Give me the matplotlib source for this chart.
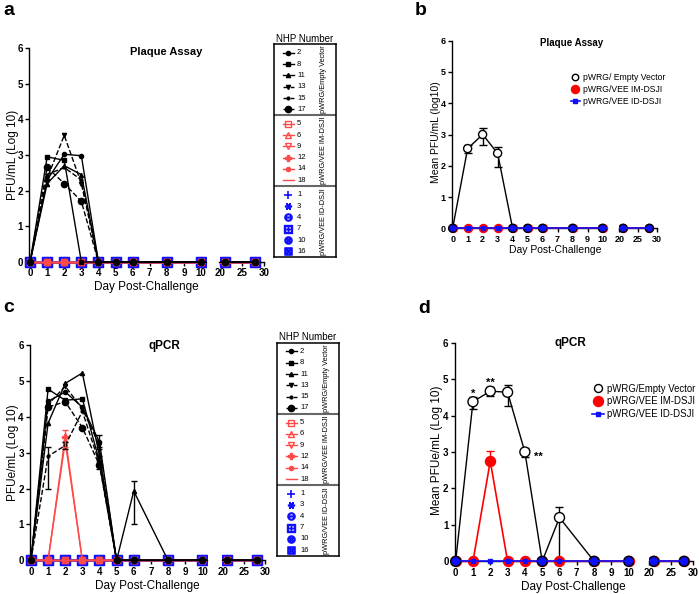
import matplotlib
matplotlib.use('Agg')
import matplotlib.pyplot as plt
from matplotlib.patches import Rectangle
from matplotlib.lines import Line2D

plt.rcParams['font.family'] = ['Liberation Sans', 'DejaVu Sans']
plt.rcParams['mathtext.fontset'] = 'dejavusans'

# ---------------- data ----------------
days = [0, 1, 2, 3, 4, 5, 6, 8, 10, 21, 28]
left_ticks = [0, 1, 2, 3, 4, 5, 6, 7, 8, 9, 10]
right_ticks = [20, 25, 30]
y_ticks = [0, 1, 2, 3, 4, 5, 6]

ev_ids = ['2', '8', '11', '13', '15', '17']
im_ids = ['5', '6', '9', '12', '14', '18']
id_ids = ['1', '3', '4', '7', '10', '16']
group_names = ['pWRG/Empty Vector', 'pWRG/VEE IM-DSJI', 'pWRG/VEE ID-DSJI']
mean_labels_b = ['pWRG/ Empty Vector', 'pWRG/VEE IM-DSJI', 'pWRG/VEE ID-DSJI']
mean_labels_d = ['pWRG/Empty Vector', 'pWRG/VEE IM-DSJI', 'pWRG/VEE ID-DSJI']

# panel a: plaque assay, individual NHPs (log10 PFU/mL)
pa_2 = [0, 2.30, 3.02, 2.98, 0, 0, 0, 0, 0, 0, 0]
pa_8 = [0, 2.95, 2.85, 0.00, 0, 0, 0, 0, 0, 0, 0]
pa_11 = [0, 2.20, 2.70, 2.45, 0, 0, 0, 0, 0, 0, 0]
pa_13 = [0, 2.35, 3.55, 2.20, 0, 0, 0, 0, 0, 0, 0]
pa_15 = [0, 2.45, 2.65, 2.30, 0, 0, 0, 0, 0, 0, 0]
pa_17 = [0, 2.65, 2.20, 1.70, 0, 0, 0, 0, 0, 0, 0]
pa_im = [0, 0, 0, 0, 0, 0, 0, 0, 0, 0, 0]   # every IM-DSJI animal
pa_id = [0, 0, 0, 0, 0, 0, 0, 0, 0, 0, 0]   # every ID-DSJI animal

# panel c: qPCR, individual NHPs (log10 PFUe/mL)
pc_2 = [0, 4.43, 4.69, 4.27, 3.30, 0, 0, 0, 0, 0, 0]
pc_8 = [0, 4.77, 4.46, 4.50, 2.75, 0, 0, 0, 0, 0, 0]
pc_11 = [0, 3.82, 4.93, 5.22, 2.90, 0, 1.93, 0, 0, 0, 0]
pc_13 = [0, 4.34, 4.85, 4.22, 3.20, 0, 0, 0, 0, 0, 0]
pc_15 = [0, 2.90, 3.20, 4.15, 2.70, 0, 0, 0, 0, 0, 0]
pc_17 = [0, 4.27, 4.42, 3.70, 2.65, 0, 0, 0, 0, 0, 0]
pc_5 = [0, 0, 0, 0, 0, 0, 0, 0, 0, 0, 0]
pc_6 = [0, 0, 0, 0, 0, 0, 0, 0, 0, 0, 0]
pc_9 = [0, 0, 0, 0, 0, 0, 0, 0, 0, 0, 0]
pc_12 = [0, 0, 3.45, 0, 0, 0, 0, 0, 0, 0, 0]
pc_14 = [0, 0, 3.30, 0, 0, 0, 0, 0, 0, 0, 0]
pc_18 = [0, 0, 0, 0, 0, 0, 0, 0, 0, 0, 0]
pc_id = [0, 0, 0, 0, 0, 0, 0, 0, 0, 0, 0]   # every ID-DSJI animal
# replicate error bars (down, up)
pc_2_lo = [0, 0, 0, 0, 0.20, 0, 0, 0, 0, 0, 0]
pc_2_hi = [0, 0, 0, 0, 0.20, 0, 0, 0, 0, 0, 0]
pc_11_lo = [0, 0, 0, 0, 0.25, 0, 0.91, 0, 0, 0, 0]
pc_11_hi = [0, 0, 0, 0, 0.25, 0, 0.29, 0, 0, 0, 0]
pc_15_lo = [0, 0.90, 0.10, 0, 0.15, 0, 0, 0, 0, 0, 0]
pc_15_hi = [0, 0.26, 0.10, 0, 0.20, 0, 0, 0, 0, 0, 0]
pc_12_lo = [0, 0, 0.30, 0, 0, 0, 0, 0, 0, 0, 0]
pc_12_hi = [0, 0, 0.17, 0, 0, 0, 0, 0, 0, 0, 0]

# panel b: plaque assay, group means
b_ev = [0, 2.55, 3.00, 2.40, 0, 0, 0, 0, 0, 0, 0]
b_ev_lo = [0, 0.15, 0.33, 0.43, 0, 0, 0, 0, 0, 0, 0]
b_ev_hi = [0, 0.13, 0.20, 0.21, 0, 0, 0, 0, 0, 0, 0]
b_im = [0, 0, 0, 0, 0, 0, 0, 0, 0, 0, 0]
b_im_lo = [0, 0, 0, 0, 0, 0, 0, 0, 0, 0, 0]
b_im_hi = [0, 0, 0, 0, 0, 0, 0, 0, 0, 0, 0]
b_id = [0, 0, 0, 0, 0, 0, 0, 0, 0, 0, 0]

# panel d: qPCR, group means
d_ev = [0, 4.38, 4.67, 4.64, 3.00, 0, 1.20, 0, 0, 0, 0]
d_ev_lo = [0, 0.20, 0.14, 0.38, 0.15, 0, 1.20, 0, 0, 0, 0]
d_ev_hi = [0, 0.13, 0.11, 0.19, 0.10, 0, 0.28, 0, 0, 0, 0]
d_im = [0, 0, 2.75, 0, 0, 0, 0, 0, 0, 0, 0]
d_im_lo = [0, 0, 0, 0, 0, 0, 0, 0, 0, 0, 0]
d_im_hi = [0, 0, 0.29, 0, 0, 0, 0, 0, 0, 0, 0]
d_id = [0, 0, 0, 0, 0, 0, 0, 0, 0, 0, 0]
sig_days = [1, 2, 4]
sig_vals = [4.38, 4.67, 3.00]
sig_text = ['*', '**', '**']

# ---------------- styles ----------------
ev_styles = [dict(marker='o', ms=3, ls='-'), dict(marker='s', ms=3, ls='-'),
             dict(marker='^', ms=3, ls='-'), dict(marker='v', ms=3, ls='--'),
             dict(marker='o', ms=2, ls='--'), dict(marker='o', ms=4.5, ls='--')]
im_styles = [dict(marker='s', ms=4, mfc='none'), dict(marker='^', ms=4, mfc='none'),
             dict(marker='v', ms=4, mfc='none'), dict(marker='P', ms=4),
             dict(marker='o', ms=3), dict(marker='None')]
id_styles = [dict(marker='+', ms=7, mew=1.2), dict(marker=(6, 2, 90), ms=7, mew=1.2),
             dict(marker=r'$\ominus$', ms=7), dict(marker=r'$\boxplus$', ms=7),
             dict(marker=r'$\otimes$', ms=7), dict(marker=r'$\boxtimes$', ms=7)]

W, H = 699, 594
fig = plt.figure(figsize=(W / 100, H / 100), dpi=100)
BLACK = 'black'
LRED = '#ff4a4a'
RED = '#ff0000'
BLUE = '#1010ff'


def fbox(x0, y0, x1, y1):
    return [x0 / W, 1 - y1 / H, (x1 - x0) / W, (y1 - y0) / H]


def make_pair(xl0, xl1, xr0, xr1, yt, yb, fs=7):
    axL = fig.add_axes(fbox(xl0, yt, xl1, yb))
    axR = fig.add_axes(fbox(xr0, yt, xr1, yb))
    for ax in (axL, axR):
        ax.set_ylim(0, 6)
        ax.patch.set_visible(False)
        for s in ('top', 'right'):
            ax.spines[s].set_visible(False)
        for s in ('left', 'bottom'):
            ax.spines[s].set_linewidth(1.0)
        ax.tick_params(axis='both', length=3, width=1, labelsize=fs, pad=1.5)
    axL.set_xlim(-0.05, 10.3)
    axR.set_xlim(19.8, 30.0)
    axL.set_xticks(left_ticks)
    axR.set_xticks(right_ticks)
    axL.set_yticks(y_ticks)
    axR.spines['left'].set_visible(False)
    axR.set_yticks([])
    for lab in axL.get_xticklabels() + axL.get_yticklabels() + axR.get_xticklabels():
        lab.set_fontweight('bold')
    return axL, axR


def clip_to(artist, ax, le, re):
    artist.set_clip_path(Rectangle((-le, -0.1), 1 + le + re, 1.25, transform=ax.transAxes))


def series(pair, x, y, z, **kw):
    for ax, le, re in ((pair[0], 0.06, 0.0), (pair[1], 0.0, 0.12)):
        ln, = ax.plot(x, y, zorder=z, **kw)
        clip_to(ln, ax, le, re)


def scatter(pair, x, y, z, **kw):
    for ax, le, re in ((pair[0], 0.06, 0.0), (pair[1], 0.0, 0.12)):
        sc = ax.scatter(x, y, zorder=z, **kw)
        clip_to(sc, ax, le, re)


def errbars(ax, x, y, lo, hi, color, z, cap=2.5):
    pts = [(a, b, c, d) for a, b, c, d in zip(x, y, lo, hi) if c > 0 or d > 0]
    if not pts:
        return
    xs, ys, los, his = zip(*pts)
    eb = ax.errorbar(xs, ys, yerr=[los, his], fmt='none', ecolor=color, elinewidth=1,
                     capsize=cap, capthick=1, zorder=z)
    for art in eb.get_children():
        art.set_clip_on(False)


def nhp_legend(x0, y0, x1, y1, red_color):
    lax = fig.add_axes(fbox(x0, y0, x1, y1))
    w, h = x1 - x0, y1 - y0
    lax.set_xlim(0, w)
    lax.set_ylim(h, 0)
    lax.set_xticks([])
    lax.set_yticks([])
    for s in lax.spines.values():
        s.set_linewidth(1.1)
    gh = h / 3
    groups = [(ev_ids, ev_styles, BLACK, True), (im_ids, im_styles, red_color, True),
              (id_ids, id_styles, BLUE, False)]
    for g, (ids, styles, col, with_line) in enumerate(groups):
        for i, (nid, st) in enumerate(zip(ids, styles)):
            yy = g * gh + 8.8 + i * 11.3
            st = dict(st)
            ls = st.pop('ls', '-')
            if with_line:
                lax.plot([8.7, 20], [yy, yy], color=col, lw=1, ls=ls)
            ms = st.pop('ms', 4)
            if g == 2:
                ms = 5.2
            lax.plot([14.3], [yy], color=col, ls='none', ms=ms, **st)
            lax.text(23, yy, nid, va='center', ha='left', fontsize=5.5)
        lax.text(49, g * gh + gh / 2, group_names[g], rotation=90, ha='center',
                 va='center', fontsize=5.3)
        if g > 0:
            lax.axhline(g * gh, color='#666666', lw=1.5)
    fig.text((x0 + x1) / 2 / W, 1 - (y0 - 0.5) / H, 'NHP Number', ha='center', va='bottom',
             fontsize=7)


def indiv_panel(pair, black, red, blue, red_color, errs):
    for vals, st in zip(blue, id_styles):
        st = dict(st)
        series(pair, days, vals, 2, color=BLUE, lw=1, ls='-', **st)
    for vals, st in zip(red, im_styles):
        series(pair, days, vals, 3, color=red_color, lw=1, ls='-', **st)
    for vals, st in zip(black, ev_styles):
        series(pair, days, vals, 4, color=BLACK, lw=1, **st)
    for vals, lo, hi, col in errs:
        errbars(pair[0], days, vals, lo, hi, col, 5)


# ---------------- panel a ----------------
pa = make_pair(29.2, 206.2, 219.5, 263.7, 48, 262)
indiv_panel(pa, [pa_2, pa_8, pa_11, pa_13, pa_15, pa_17], [pa_im] * 6, [pa_id] * 6, LRED, [])
nhp_legend(274, 44, 336, 257, LRED)

# ---------------- panel c ----------------
pc = make_pair(30.1, 207.4, 222.0, 265.2, 345, 560.3)
indiv_panel(pc, [pc_2, pc_8, pc_11, pc_13, pc_15, pc_17],
            [pc_5, pc_6, pc_9, pc_12, pc_14, pc_18], [pc_id] * 6, LRED,
            [(pc_2, pc_2_lo, pc_2_hi, BLACK), (pc_11, pc_11_lo, pc_11_hi, BLACK),
             (pc_15, pc_15_lo, pc_15_hi, BLACK), (pc_12, pc_12_lo, pc_12_hi, LRED)])
nhp_legend(277, 342.7, 339, 556, LRED)


# ---------------- mean panels ----------------
def mean_panel(pair, ev, ev_lo, ev_hi, im, im_lo, im_hi, idv, ms, sq, labels, lfs, anchor, hl):
    s = (ms) ** 2
    series(pair, days, ev, 2, color=BLACK, lw=1)
    errbars(pair[0], days, ev, ev_lo, ev_hi, BLACK, 2.5, cap=3)
    series(pair, days, im, 3, color=RED, lw=1.2, marker='o', ms=ms, mec=RED, mfc=RED)
    errbars(pair[0], days, im, im_lo, im_hi, RED, 3, cap=3)
    faces = [('#1010e0' if v == 0 else 'white') for v in ev]
    scatter(pair, days, ev, 4, s=s, facecolors=faces, edgecolors='black', linewidths=1)
    series(pair, days, idv, 5, color=BLUE, lw=1.2, marker='s', ms=sq)
    handles = [Line2D([], [], marker='o', ms=ms * 0.8, mfc='white', mec='black', ls='none', mew=1),
               Line2D([], [], marker='o', ms=ms, color=RED, ls='none'),
               Line2D([], [], marker='s', ms=sq, color=BLUE, ls='-', lw=1.2)]
    pair[0].legend(handles, labels, loc='upper left', bbox_to_anchor=(anchor[0] / W, 1 - anchor[1] / H),
                   bbox_transform=fig.transFigure, frameon=False, fontsize=lfs, handlelength=hl,
                   handletextpad=0.4, labelspacing=0.3, borderpad=0, borderaxespad=0)


pb = make_pair(451.9, 607.0, 618.5, 656.9, 40.7, 228.3, fs=6.5)
mean_panel(pb, b_ev, b_ev_lo, b_ev_hi, b_im, b_im_lo, b_im_hi, b_id, 5.8, 3,
           mean_labels_b, 6.2, (571, 73.5), 1.0)

pd_ = make_pair(454.8, 633.9, 648.5, 692.7, 342.7, 561.3, fs=7)
mean_panel(pd_, d_ev, d_ev_lo, d_ev_hi, d_im, d_im_lo, d_im_hi, d_id, 7.2, 3.5,
           mean_labels_d, 6.9, (592, 383.5), 1.2)
for dd, vv, tt in zip(sig_days, sig_vals, sig_text):
    if dd == 4:
        pd_[0].text(dd + 0.55, vv - 0.12, tt, ha='left', va='center', fontsize=8, fontweight='bold')
    else:
        pd_[0].text(dd, vv + 0.22, tt, ha='center', va='center', fontsize=8, fontweight='bold')


# ---------------- texts ----------------
def ftext(x, y, s, **kw):
    fig.text(x / W, 1 - y / H, s, **kw)


ftext(3, 15, 'a', fontsize=14, fontweight='bold', va='baseline')
ftext(415, 15, 'b', fontsize=14, fontweight='bold', va='baseline')
ftext(3, 312, 'c', fontsize=14, fontweight='bold', va='baseline')
ftext(418, 313, 'd', fontsize=14, fontweight='bold', va='baseline')

ftext(165.7, 51.7, 'Plaque Assay', ha='center', va='center', fontsize=8, fontweight='bold')
ftext(572, 42.7, 'Plaque Assay', ha='center', va='center', fontsize=7, fontweight='bold')
ftext(164, 346, 'qPCR', ha='center', va='center', fontsize=8.5, fontweight='bold')
ftext(570, 343, 'qPCR', ha='center', va='center', fontsize=8.5, fontweight='bold')

ftext(12.7, 155, 'PFU/mL (Log 10)', rotation=90, ha='center', va='center', fontsize=8.5)
ftext(12.7, 453, 'PFUe/mL (Log 10)', rotation=90, ha='center', va='center', fontsize=8.5)
ftext(436, 132, 'Mean PFU/mL (log10)', rotation=90, ha='center', va='center', fontsize=7.5)
ftext(436.7, 450, 'Mean PFUe/mL (Log 10)', rotation=90, ha='center', va='center', fontsize=8.5)

ftext(146.7, 286.7, 'Day Post-Challenge', ha='center', va='center', fontsize=8.5)
ftext(147, 586, 'Day Post-Challenge', ha='center', va='center', fontsize=8.5)
ftext(555, 250, 'Day Post-Challenge', ha='center', va='center', fontsize=7.5)
ftext(573, 586.7, 'Day Post-Challenge', ha='center', va='center', fontsize=8.5)

fig.savefig('out.png', dpi=100)
